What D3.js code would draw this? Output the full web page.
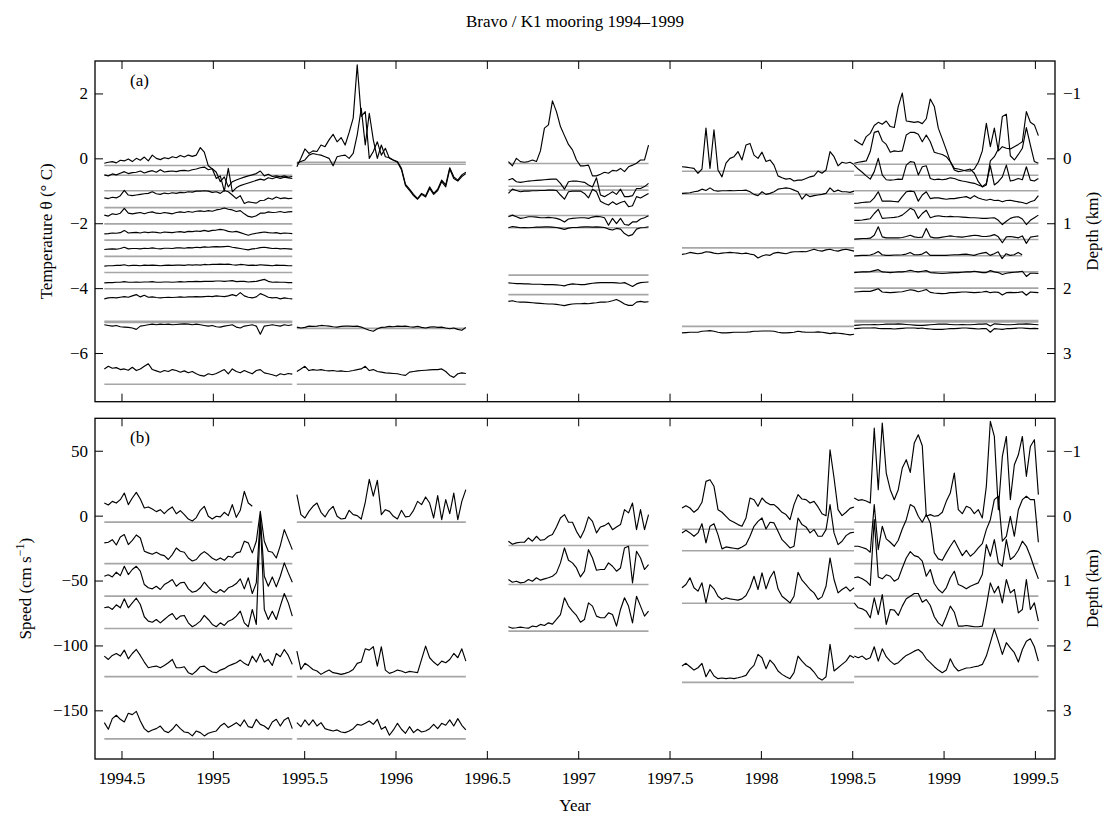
<!DOCTYPE html>
<html><head><meta charset="utf-8">
<script src="https://cdn.jsdelivr.net/npm/d3@7"></script>
<style>
body{margin:0;background:#fff;}
svg text{font-family:"Liberation Serif","Times New Roman",serif;fill:#000;}
</style></head><body>
<svg id="chart" width="1117" height="820"></svg>
<script>
// Deployment spans (decimal year)
const deployStart = [1994.406, 1995.46, 1996.618, 1997.568, 1998.511];
const deployEnd   = [1995.435, 1996.385, 1997.385, 1998.51, 1999.519];

// Potential temperature records (deg C), evenly sampled over each deployment
const temp1 = [
 [-0.15,-0.12,-0.10,-0.14,-0.06,-0.08,-0.02,-0.10,0.00,-0.06,0.04,-0.08,0.10,0.00,-0.04,0.02,-0.01,0.05,0.02,0.09,0.04,0.10,0.06,0.10,0.33,0.19,-0.23,-0.33,-0.62,-0.54,-1.01,-0.31,-1.03,-0.91,-0.84,-0.80,-0.76,-0.72,-0.68,-0.64,-0.67,-0.60,-0.63,-0.58,-0.62,-0.58,-0.60,-0.62],
 [-0.51,-0.54,-0.48,-0.51,-0.46,-0.41,-0.47,-0.44,-0.43,-0.39,-0.45,-0.41,-0.38,-0.43,-0.35,-0.42,-0.40,-0.39,-0.41,-0.38,-0.37,-0.39,-0.35,-0.33,-0.29,-0.27,-0.35,-0.32,-0.43,-0.72,-0.57,-0.88,-0.72,-0.67,-0.62,-0.58,-0.54,-0.51,-0.47,-0.39,-0.54,-0.49,-0.56,-0.54,-0.57,-0.54,-0.58,-0.56],
 [-1.22,-1.24,-1.20,-1.22,-1.15,-0.99,-1.13,-1.15,-1.13,-1.11,-1.09,-1.08,-1.03,-1.09,-1.11,-1.07,-1.09,-1.06,-1.08,-1.05,-1.06,-1.03,-1.04,-1.01,-1.01,-1.00,-1.01,-1.05,-1.03,-1.08,-0.99,-1.03,-1.13,-1.24,-1.15,-1.39,-1.34,-1.36,-1.38,-1.30,-1.29,-1.22,-1.26,-1.19,-1.24,-1.22,-1.24,-1.23],
 [-1.75,-1.78,-1.71,-1.73,-1.69,-1.54,-1.69,-1.71,-1.69,-1.67,-1.71,-1.67,-1.65,-1.69,-1.70,-1.67,-1.69,-1.71,-1.67,-1.65,-1.67,-1.64,-1.66,-1.63,-1.62,-1.64,-1.61,-1.63,-1.59,-1.57,-1.53,-1.57,-1.59,-1.64,-1.61,-1.71,-1.79,-1.81,-1.77,-1.69,-1.69,-1.65,-1.67,-1.66,-1.64,-1.67,-1.65,-1.64],
 [-2.33,-2.32,-2.30,-2.31,-2.29,-2.22,-2.30,-2.29,-2.28,-2.30,-2.27,-2.29,-2.27,-2.28,-2.30,-2.27,-2.28,-2.29,-2.27,-2.26,-2.28,-2.25,-2.26,-2.24,-2.25,-2.22,-2.25,-2.22,-2.21,-2.19,-2.21,-2.25,-2.27,-2.25,-2.29,-2.33,-2.37,-2.33,-2.31,-2.29,-2.27,-2.29,-2.30,-2.29,-2.32,-2.30,-2.31,-2.32],
 [-2.81,-2.80,-2.79,-2.80,-2.78,-2.74,-2.79,-2.78,-2.78,-2.79,-2.77,-2.78,-2.76,-2.78,-2.79,-2.77,-2.77,-2.78,-2.76,-2.76,-2.77,-2.75,-2.76,-2.74,-2.75,-2.73,-2.74,-2.73,-2.72,-2.73,-2.72,-2.71,-2.74,-2.76,-2.78,-2.80,-2.82,-2.79,-2.78,-2.75,-2.74,-2.76,-2.78,-2.77,-2.79,-2.78,-2.79,-2.80],
 [-3.32,-3.31,-3.31,-3.30,-3.30,-3.28,-3.31,-3.30,-3.30,-3.31,-3.29,-3.30,-3.29,-3.30,-3.31,-3.30,-3.29,-3.30,-3.29,-3.29,-3.30,-3.28,-3.29,-3.28,-3.29,-3.27,-3.28,-3.27,-3.27,-3.26,-3.27,-3.26,-3.28,-3.29,-3.27,-3.28,-3.30,-3.29,-3.30,-3.28,-3.29,-3.30,-3.31,-3.29,-3.30,-3.30,-3.31,-3.31],
 [-3.84,-3.83,-3.83,-3.82,-3.82,-3.80,-3.82,-3.82,-3.81,-3.82,-3.81,-3.81,-3.80,-3.82,-3.82,-3.81,-3.81,-3.82,-3.81,-3.80,-3.81,-3.80,-3.80,-3.79,-3.80,-3.79,-3.79,-3.79,-3.78,-3.78,-3.79,-3.78,-3.77,-3.80,-3.79,-3.79,-3.81,-3.80,-3.79,-3.76,-3.73,-3.79,-3.82,-3.81,-3.82,-3.82,-3.83,-3.83],
 [-4.33,-4.30,-4.29,-4.30,-4.28,-4.26,-4.28,-4.24,-4.20,-4.27,-4.22,-4.28,-4.27,-4.29,-4.30,-4.29,-4.28,-4.29,-4.28,-4.27,-4.28,-4.27,-4.27,-4.26,-4.27,-4.26,-4.25,-4.26,-4.24,-4.25,-4.26,-4.24,-4.20,-4.24,-4.14,-4.24,-4.28,-4.30,-4.27,-4.17,-4.22,-4.28,-4.30,-4.29,-4.33,-4.30,-4.32,-4.33],
 [-5.13,-5.15,-5.17,-5.15,-5.19,-5.20,-5.21,-5.23,-5.27,-5.17,-5.15,-5.13,-5.11,-5.13,-5.11,-5.12,-5.11,-5.13,-5.12,-5.11,-5.10,-5.11,-5.13,-5.11,-5.13,-5.15,-5.17,-5.15,-5.19,-5.20,-5.17,-5.15,-5.13,-5.20,-5.23,-5.17,-5.15,-5.13,-5.17,-5.42,-5.17,-5.15,-5.13,-5.15,-5.17,-5.13,-5.15,-5.13],
 [-6.49,-6.41,-6.47,-6.45,-6.51,-6.49,-6.53,-6.44,-6.54,-6.49,-6.41,-6.33,-6.51,-6.55,-6.59,-6.54,-6.57,-6.51,-6.54,-6.59,-6.55,-6.61,-6.57,-6.64,-6.69,-6.71,-6.64,-6.67,-6.63,-6.57,-6.51,-6.64,-6.49,-6.57,-6.61,-6.54,-6.59,-6.64,-6.54,-6.51,-6.61,-6.64,-6.67,-6.71,-6.64,-6.67,-6.63,-6.65]
];
const temp2 = [
 [-0.26,0.00,0.29,0.15,0.23,0.21,0.41,0.36,0.57,0.74,0.51,0.64,0.41,0.80,1.24,2.88,1.29,1.44,0.00,0.21,0.51,0.10,0.31,0.00,-0.06,-0.10,-0.31,-0.80,-0.95,-1.11,-1.24,-1.08,-1.15,-0.88,-1.08,-0.95,-0.67,-0.82,-0.29,-0.57,-0.67,-0.51,-0.43],
 [-0.15,-0.10,-0.05,0.10,0.15,0.12,0.10,0.05,0.00,-0.23,0.05,0.08,0.10,0.00,0.15,0.72,1.54,0.41,1.39,0.57,0.00,0.41,0.05,0.02,-0.05,-0.12,-0.35,-0.84,-0.99,-1.15,-1.26,-1.11,-1.19,-0.93,-1.11,-0.99,-0.72,-0.88,-0.33,-0.62,-0.70,-0.56,-0.47],
 [-5.20,-5.23,-5.21,-5.17,-5.18,-5.17,-5.15,-5.16,-5.17,-5.19,-5.20,-5.18,-5.17,-5.17,-5.18,-5.17,-5.20,-5.25,-5.30,-5.33,-5.25,-5.21,-5.20,-5.18,-5.19,-5.17,-5.18,-5.17,-5.19,-5.20,-5.18,-5.21,-5.23,-5.20,-5.19,-5.21,-5.20,-5.23,-5.25,-5.23,-5.27,-5.30,-5.21],
 [-6.57,-6.49,-6.41,-6.54,-6.51,-6.53,-6.51,-6.54,-6.55,-6.54,-6.56,-6.55,-6.57,-6.56,-6.54,-6.51,-6.49,-6.41,-6.54,-6.51,-6.57,-6.59,-6.61,-6.62,-6.63,-6.64,-6.67,-6.69,-6.59,-6.57,-6.55,-6.54,-6.53,-6.52,-6.51,-6.51,-6.49,-6.57,-6.69,-6.75,-6.64,-6.61,-6.63]
];
const temp3 = [
 [-0.10,-0.23,0.00,-0.10,-0.12,-0.10,-0.05,-0.10,0.23,0.93,1.03,1.77,1.44,0.98,0.70,0.43,0.26,-0.05,-0.23,-0.23,-0.21,-0.54,-0.54,-0.49,-0.43,-0.46,-0.37,-0.39,-0.31,-0.41,-0.26,-0.21,-0.15,-0.05,-0.05,0.41],
 [-0.67,-0.62,-0.72,-0.74,-0.72,-0.70,-0.69,-0.68,-0.67,-0.66,-0.65,-0.64,-0.64,-0.77,-0.95,-0.72,-0.70,-0.70,-0.72,-0.74,-0.82,-0.88,-0.60,-1.13,-1.18,-1.11,-1.03,-1.11,-0.95,-1.18,-1.18,-1.15,-0.93,-0.93,-0.87,-0.77],
 [-1.08,-0.95,-0.99,-1.03,-1.01,-1.01,-1.00,-1.00,-0.99,-0.99,-0.98,-0.98,-0.99,-1.13,-1.26,-1.03,-1.01,-1.01,-1.01,-1.08,-1.22,-0.95,-1.03,-1.32,-1.39,-1.44,-1.34,-1.42,-1.36,-1.32,-1.49,-1.46,-1.18,-1.22,-1.15,-1.08],
 [-1.80,-1.75,-1.80,-1.85,-1.83,-1.80,-1.80,-1.81,-1.83,-1.83,-1.82,-1.83,-1.85,-1.89,-1.96,-1.87,-1.85,-1.84,-1.83,-1.83,-1.85,-1.81,-1.79,-1.80,-1.83,-2.06,-1.85,-2.01,-1.85,-2.04,-2.06,-1.96,-1.96,-1.87,-1.83,-1.77],
 [-2.14,-2.10,-2.12,-2.14,-2.13,-2.14,-2.13,-2.12,-2.12,-2.11,-2.11,-2.12,-2.13,-2.16,-2.19,-2.15,-2.13,-2.13,-2.12,-2.11,-2.11,-2.12,-2.11,-2.12,-2.13,-2.18,-2.21,-2.16,-2.18,-2.32,-2.39,-2.35,-2.18,-2.14,-2.13,-2.11],
 [-3.84,-3.85,-3.86,-3.86,-3.87,-3.87,-3.88,-3.88,-3.88,-3.89,-3.89,-3.89,-3.90,-3.91,-3.93,-3.89,-3.87,-3.88,-3.89,-3.89,-3.87,-3.85,-3.84,-3.83,-3.83,-3.83,-3.83,-3.84,-3.85,-3.83,-3.89,-3.95,-3.87,-3.83,-3.82,-3.81],
 [-4.41,-4.39,-4.42,-4.43,-4.43,-4.44,-4.45,-4.46,-4.47,-4.48,-4.49,-4.49,-4.50,-4.52,-4.54,-4.51,-4.49,-4.48,-4.48,-4.47,-4.48,-4.46,-4.45,-4.43,-4.43,-4.42,-4.39,-4.35,-4.41,-4.49,-4.53,-4.53,-4.43,-4.41,-4.43,-4.42]
];
const temp4 = [
 [-0.26,-0.27,-0.29,-0.31,-0.46,-0.33,0.93,-0.31,0.88,-0.36,-0.57,-0.15,0.00,0.05,0.21,-0.05,0.41,0.46,0.10,0.00,0.19,-0.10,-0.05,-0.21,-0.54,-0.60,-0.64,-0.62,-0.70,-0.67,-0.67,-0.62,-0.57,-0.54,-0.39,-0.46,-0.36,0.21,0.05,-0.23,-0.12,-0.15,-0.12,-0.19],
 [-1.08,-1.07,-1.06,-1.03,-1.01,-0.95,-0.99,-0.91,-0.99,-1.01,-1.00,-1.00,-0.99,-1.00,-0.99,-0.99,-0.98,-1.03,-1.11,-1.15,-1.03,-1.11,-1.08,-1.03,-0.95,-0.93,-0.91,-0.93,-0.98,-1.03,-1.26,-1.11,-1.18,-1.15,-1.13,-1.11,-1.08,-0.91,-1.03,-0.98,-1.03,-1.03,-1.05,-1.01],
 [-2.96,-2.94,-2.90,-2.92,-2.94,-2.92,-2.88,-2.89,-2.92,-2.94,-2.92,-2.91,-2.90,-2.91,-2.92,-2.94,-2.92,-2.95,-2.97,-3.07,-3.01,-2.97,-2.99,-2.92,-2.90,-2.92,-2.94,-2.90,-2.88,-2.88,-2.87,-2.88,-2.84,-2.80,-2.84,-2.86,-2.82,-2.80,-2.84,-2.86,-2.82,-2.80,-2.83,-2.86],
 [-5.38,-5.37,-5.36,-5.36,-5.36,-5.33,-5.32,-5.31,-5.33,-5.36,-5.38,-5.38,-5.37,-5.36,-5.36,-5.36,-5.36,-5.35,-5.33,-5.33,-5.32,-5.32,-5.32,-5.33,-5.36,-5.38,-5.38,-5.37,-5.36,-5.33,-5.35,-5.36,-5.36,-5.36,-5.35,-5.36,-5.38,-5.40,-5.38,-5.39,-5.40,-5.42,-5.44,-5.42]
];
const temp5 = [
 [0.57,0.49,0.41,0.67,0.77,1.01,1.11,1.05,1.15,0.98,0.95,1.60,2.01,1.15,1.13,1.11,1.13,1.07,1.22,1.83,1.60,0.93,0.60,0.26,-0.10,-0.31,-0.33,-0.36,-0.39,-0.39,-0.33,-0.12,0.23,1.08,0.36,0.93,0.23,0.36,0.31,0.29,0.36,0.43,0.51,1.44,1.11,1.03,0.70],
 [-0.15,-0.12,-0.10,-0.08,0.21,0.80,0.84,0.54,0.43,0.19,0.23,0.21,0.23,0.72,0.80,0.80,0.74,0.51,0.72,0.51,0.19,0.15,0.12,0.05,-0.10,-0.36,-0.41,-0.39,-0.36,-0.33,-0.46,-0.72,-0.88,-0.82,-0.08,0.05,0.29,1.29,1.36,0.08,-0.05,0.12,0.31,0.95,0.41,-0.10,-0.15],
 [-0.21,-0.33,-0.43,-0.54,-0.64,-0.41,0.00,-0.51,-0.66,-0.67,-0.66,-0.64,-0.65,-0.21,-0.10,-0.12,-0.51,-0.26,-0.23,-0.62,-0.66,-0.64,-0.66,-0.64,-0.60,-0.62,-0.67,-0.70,-0.72,-0.75,-0.77,-0.82,-0.87,-0.77,-0.23,-0.82,-0.72,-0.57,-0.21,-0.70,-0.67,-0.62,-0.66,-0.26,-0.67,-0.70,-0.62],
 [-1.39,-1.38,-1.36,-1.35,-1.34,-1.22,-1.03,-1.32,-1.32,-1.32,-1.33,-1.34,-1.18,-1.03,-1.01,-1.03,-1.32,-1.13,-1.03,-1.24,-1.22,-1.22,-1.24,-1.26,-1.24,-1.24,-1.22,-1.20,-1.18,-1.24,-1.15,-1.22,-1.26,-1.29,-1.26,-1.30,-1.29,-1.34,-1.30,-1.29,-1.32,-1.34,-1.36,-1.40,-1.34,-1.30,-1.15],
 [-1.91,-1.91,-1.90,-1.88,-1.86,-1.70,-1.57,-1.85,-1.84,-1.83,-1.82,-1.80,-1.75,-1.65,-1.54,-1.60,-1.85,-1.70,-1.60,-1.83,-1.79,-1.77,-1.79,-1.80,-1.79,-1.80,-1.80,-1.81,-1.82,-1.83,-1.83,-1.84,-1.85,-1.85,-1.84,-1.83,-1.91,-2.04,-1.94,-1.85,-1.81,-1.80,-1.87,-2.04,-1.91,-1.83,-1.75],
 [-2.49,-2.48,-2.47,-2.47,-2.46,-2.37,-2.11,-2.42,-2.45,-2.45,-2.45,-2.45,-2.44,-2.41,-2.37,-2.42,-2.44,-2.43,-2.16,-2.42,-2.45,-2.45,-2.43,-2.41,-2.39,-2.41,-2.42,-2.43,-2.41,-2.39,-2.37,-2.38,-2.41,-2.41,-2.39,-2.35,-2.42,-2.60,-2.42,-2.41,-2.43,-2.45,-2.39,-2.62,-2.43,-2.41,-2.39],
 [-3.01,-3.00,-2.99,-2.99,-2.98,-2.94,-2.87,-2.97,-2.99,-2.99,-2.98,-2.98,-2.97,-2.95,-2.90,-2.97,-2.97,-2.95,-2.88,-2.99,-2.99,-2.99,-2.99,-2.99,-2.98,-2.97,-2.97,-2.96,-2.95,-2.97,-2.99,-2.95,-2.92,-2.90,-2.99,-2.94,-2.88,-3.09,-2.94,-2.99,-2.97,-2.90,-2.97],
 [-3.52,-3.51,-3.50,-3.50,-3.49,-3.46,-3.43,-3.50,-3.51,-3.52,-3.51,-3.50,-3.50,-3.48,-3.45,-3.48,-3.50,-3.48,-3.46,-3.52,-3.53,-3.54,-3.55,-3.54,-3.53,-3.52,-3.52,-3.51,-3.50,-3.50,-3.48,-3.50,-3.52,-3.52,-3.46,-3.50,-3.52,-3.58,-3.54,-3.52,-3.51,-3.50,-3.48,-3.64,-3.54,-3.54,-3.55],
 [-4.12,-4.11,-4.10,-4.10,-4.10,-4.06,-4.02,-4.12,-4.13,-4.14,-4.13,-4.12,-4.11,-4.08,-4.05,-4.07,-4.11,-4.08,-4.04,-4.13,-4.15,-4.16,-4.17,-4.16,-4.14,-4.14,-4.13,-4.12,-4.12,-4.13,-4.14,-4.13,-4.12,-4.10,-4.14,-4.12,-4.13,-4.21,-4.14,-4.13,-4.14,-4.13,-4.11,-4.22,-4.12,-4.13,-4.14],
 [-5.15,-5.14,-5.13,-5.13,-5.13,-5.12,-5.13,-5.12,-5.11,-5.11,-5.11,-5.10,-5.11,-5.12,-5.13,-5.14,-5.15,-5.15,-5.14,-5.13,-5.12,-5.11,-5.11,-5.11,-5.12,-5.13,-5.13,-5.12,-5.13,-5.13,-5.12,-5.11,-5.11,-5.10,-5.17,-5.10,-5.11,-5.12,-5.13,-5.13,-5.12,-5.11,-5.11,-5.10,-5.11,-5.12,-5.13],
 [-5.25,-5.24,-5.23,-5.23,-5.23,-5.22,-5.24,-5.25,-5.25,-5.25,-5.26,-5.25,-5.24,-5.23,-5.23,-5.23,-5.24,-5.23,-5.25,-5.26,-5.27,-5.27,-5.27,-5.26,-5.25,-5.25,-5.24,-5.23,-5.23,-5.24,-5.25,-5.26,-5.25,-5.25,-5.36,-5.25,-5.26,-5.27,-5.25,-5.25,-5.24,-5.23,-5.23,-5.24,-5.25,-5.24,-5.25]
];

// Current speed records (cm/s)
const speed1 = [
 [9.7,8.2,11.0,9.7,12.3,17.4,8.5,13.6,17.9,12.8,5.9,6.7,5.1,3.1,4.6,1.5,4.6,6.7,1.5,3.8,0.8,-2.6,-4.1,-1.5,4.1,7.2,-0.5,-2.6,-0.5,-1.0,2.6,0.0,8.5,-1.3,4.1,18.7,9.7,7.2],
 [-21.0,-20.5,-18.5,-22.6,-16.4,-14.6,-22.3,-19.0,-14.9,-17.2,-27.4,-28.7,-29.7,-28.2,-30.0,-30.8,-33.8,-30.0,-24.9,-27.4,-28.2,-32.6,-34.9,-33.8,-30.0,-27.7,-30.0,-32.8,-34.4,-32.6,-34.4,-31.3,-32.1,-28.7,-27.9,-19.7,-21.0,-28.7,-19.7,3.3,-19.7,-27.4,-28.2,-32.6,-23.1,-10.8,-18.5,-26.2],
 [-46.7,-45.6,-47.2,-43.6,-46.2,-39.0,-45.4,-41.5,-39.0,-42.8,-53.1,-55.6,-56.4,-54.4,-56.9,-53.1,-51.3,-49.2,-54.4,-51.8,-51.3,-56.4,-59.0,-58.2,-55.6,-51.3,-54.9,-58.2,-59.5,-56.9,-59.0,-55.6,-54.4,-52.3,-48.7,-56.4,-47.9,-60.0,-51.8,-0.5,-46.7,-54.4,-47.2,-54.9,-46.7,-36.4,-44.1,-51.3],
 [-71.0,-70.3,-72.3,-68.7,-71.0,-64.1,-71.0,-67.2,-63.6,-68.5,-77.9,-81.3,-82.1,-80.0,-82.6,-80.0,-77.4,-75.4,-80.0,-77.4,-76.9,-82.6,-85.6,-83.8,-81.3,-76.9,-80.0,-83.8,-85.6,-82.6,-84.6,-81.3,-80.0,-77.4,-73.6,-82.6,-85.6,-72.3,-83.8,-3.1,-72.3,-80.0,-73.6,-80.0,-69.7,-60.0,-67.2,-77.4],
 [-108.2,-110.8,-107.7,-106.2,-108.2,-103.6,-110.3,-106.2,-103.1,-107.7,-112.8,-117.2,-116.4,-115.9,-117.2,-115.4,-113.3,-110.8,-117.2,-117.2,-116.4,-121.0,-122.3,-119.7,-116.4,-115.9,-118.5,-120.5,-121.0,-119.0,-117.9,-115.9,-114.6,-113.3,-111.3,-113.8,-115.4,-108.2,-112.8,-106.2,-112.8,-110.8,-115.4,-106.2,-108.7,-103.1,-107.7,-114.6],
 [-159.5,-164.6,-156.4,-153.8,-156.9,-159.0,-152.3,-153.3,-150.8,-158.2,-164.1,-166.7,-165.1,-164.1,-162.1,-165.9,-167.2,-164.6,-160.8,-164.1,-166.7,-167.2,-169.7,-165.9,-167.2,-169.7,-167.7,-166.7,-165.9,-162.1,-160.0,-163.3,-161.5,-159.5,-162.1,-157.4,-162.6,-163.3,-156.9,-160.8,-162.1,-164.6,-159.0,-156.9,-162.1,-157.4,-155.6,-164.1]
];
const speed2 = [
 [16.2,0.8,-1.8,3.3,7.2,9.7,2.6,-1.0,4.1,7.2,-0.5,-2.6,-2.1,4.1,0.8,0.0,-2.6,10.3,28.0,15.1,27.2,0.8,4.6,3.3,-0.5,-2.6,4.1,-1.0,-0.5,4.1,11.0,8.5,14.4,9.7,-1.8,15.4,-3.1,12.3,1.5,17.4,-3.1,11.0,20.0],
 [-104.4,-118.5,-113.8,-115.9,-118.5,-119.7,-122.3,-120.5,-119.0,-121.0,-121.5,-122.3,-121.5,-120.5,-118.5,-113.8,-112.8,-102.6,-103.6,-101.0,-115.9,-101.0,-119.0,-121.5,-120.5,-119.0,-119.7,-121.0,-120.0,-120.5,-121.0,-110.8,-100.5,-109.5,-112.8,-115.4,-112.1,-113.3,-110.8,-106.2,-109.5,-102.6,-112.1],
 [-159.5,-162.6,-157.4,-161.5,-157.4,-162.1,-159.5,-164.1,-165.1,-165.9,-165.1,-166.7,-167.2,-165.9,-164.1,-160.8,-161.5,-160.0,-158.2,-160.8,-156.9,-164.6,-162.6,-169.2,-165.1,-160.0,-164.6,-167.7,-162.6,-167.2,-164.6,-166.7,-165.9,-164.1,-160.8,-164.1,-160.0,-161.5,-157.4,-162.1,-156.4,-161.5,-165.1]
];
const speed3 = [
 [-19.7,-22.1,-21.0,-20.5,-20.5,-17.2,-19.7,-15.9,-19.0,-18.5,-15.9,-14.6,-8.7,-1.8,0.8,-5.1,-5.1,-12.1,-17.2,-10.8,-1.0,-4.4,-13.3,-8.7,-7.7,-5.6,-10.8,-8.7,-6.9,4.6,2.1,9.7,-10.8,4.6,-10.8,0.8],
 [-49.2,-51.3,-50.5,-51.8,-51.3,-49.2,-50.5,-47.9,-49.7,-48.7,-47.9,-46.7,-44.1,-36.4,-24.9,-34.4,-36.4,-40.3,-47.2,-42.8,-26.2,-32.6,-42.1,-41.5,-41.5,-36.4,-39.0,-42.8,-40.3,-24.9,-23.6,-51.8,-27.4,-32.6,-41.5,-37.7],
 [-85.6,-86.7,-86.4,-85.9,-86.4,-86.7,-85.1,-85.6,-83.8,-84.6,-82.6,-83.6,-80.0,-76.2,-63.3,-69.7,-73.6,-76.9,-82.1,-80.0,-67.2,-69.7,-77.4,-78.7,-78.7,-74.9,-76.2,-85.1,-72.3,-63.3,-69.7,-82.6,-62.1,-69.7,-77.4,-73.6]
];
const speed4 = [
 [5.9,7.7,5.9,2.6,5.1,10.3,26.4,27.7,22.6,4.6,2.6,-0.5,-3.6,-5.1,-6.9,-8.2,-1.8,13.6,12.3,7.2,13.6,10.3,8.5,8.5,5.9,2.6,0.8,-3.1,8.5,16.2,12.8,12.3,9.7,11.0,6.7,1.5,0.0,50.8,29.0,4.6,0.0,2.6,5.6,6.7],
 [-13.3,-11.3,-13.3,-15.9,-13.3,-6.2,-21.0,-8.2,-6.2,-14.6,-25.6,-24.1,-24.6,-25.1,-25.6,-24.1,-22.3,-15.9,-8.2,-4.4,-1.8,-10.3,-5.1,-5.6,-12.1,-18.5,-21.5,-24.9,-23.6,-1.8,-6.9,-8.7,-13.3,-10.8,-15.9,-15.9,-10.8,8.5,-13.3,-22.3,-19.7,-15.4,-13.3,-12.8],
 [-55.6,-53.1,-47.9,-55.6,-58.2,-51.8,-67.2,-53.1,-56.4,-62.1,-64.6,-63.3,-64.1,-64.6,-65.1,-64.1,-61.5,-55.6,-46.7,-56.9,-44.1,-56.4,-47.9,-42.8,-56.4,-62.1,-64.6,-67.2,-62.1,-43.6,-49.7,-53.1,-56.9,-59.5,-64.6,-62.6,-54.4,-32.6,-49.2,-59.5,-56.9,-54.9,-58.2,-55.6],
 [-115.9,-113.8,-116.4,-119.0,-117.2,-113.8,-124.1,-118.5,-123.6,-125.6,-125.1,-125.6,-125.1,-125.6,-124.9,-124.1,-123.1,-118.5,-115.4,-106.9,-109.5,-117.9,-111.3,-114.6,-119.7,-122.3,-124.1,-125.6,-121.0,-108.2,-112.1,-115.4,-117.2,-120.5,-124.9,-126.7,-124.1,-99.2,-119.7,-117.2,-114.6,-112.1,-107.7,-109.5]
];
const speed5 = [
 [13.6,11.8,12.3,11.3,9.7,67.4,20.0,71.3,32.8,20.0,12.3,20.0,36.7,43.1,33.3,55.9,62.3,53.8,-0.5,0.8,-0.5,0.0,2.6,11.0,17.4,32.8,4.6,1.5,7.2,5.9,1.5,4.6,-1.8,22.6,72.6,61.0,4.6,45.6,61.0,12.3,39.2,46.9,61.0,30.3,53.3,58.5,16.2],
 [-23.6,-23.6,-24.6,-25.6,-28.2,8.5,-26.2,-8.2,-17.9,-20.5,-23.6,-19.0,-10.3,-3.1,8.5,6.7,-0.5,-5.1,0.8,-5.6,-28.7,-33.3,-34.4,-28.7,-23.6,-19.0,-24.9,-30.8,-26.7,-31.3,-28.7,-24.9,-21.5,-10.8,-3.1,12.3,14.9,-19.7,-15.9,-0.5,-15.9,4.6,12.3,14.9,12.3,12.3,-20.5],
 [-47.9,-47.2,-48.7,-50.5,-53.8,-3.1,-47.2,-48.7,-45.6,-46.7,-50.5,-48.7,-40.3,-32.6,-27.7,-30.8,-31.8,-35.1,-46.7,-41.5,-52.3,-56.9,-59.5,-55.6,-47.9,-42.8,-53.1,-54.4,-56.4,-54.4,-53.1,-51.8,-45.4,-22.3,-31.3,-18.5,-36.4,-39.0,-18.5,-33.8,-31.3,-26.7,-19.7,-23.6,-31.3,-40.3,-48.7],
 [-67.2,-71.0,-71.8,-73.6,-78.7,-63.3,-76.2,-60.8,-83.8,-72.3,-72.8,-76.9,-69.7,-64.1,-62.1,-60.0,-60.0,-66.7,-64.6,-69.2,-77.9,-82.6,-85.1,-77.9,-69.7,-74.4,-85.1,-85.1,-84.6,-85.1,-85.6,-85.6,-85.1,-69.7,-51.8,-59.5,-54.4,-67.2,-49.2,-59.5,-56.9,-74.9,-72.3,-49.2,-72.3,-67.2,-81.3],
 [-108.2,-109.5,-108.2,-110.8,-109.5,-101.0,-112.1,-102.6,-108.7,-112.1,-114.6,-113.3,-110.3,-107.7,-106.2,-104.4,-103.1,-105.6,-110.3,-113.3,-116.4,-119.0,-121.0,-119.0,-110.3,-116.4,-119.7,-118.5,-117.4,-117.2,-116.4,-115.9,-114.6,-108.2,-97.9,-87.2,-96.7,-106.9,-97.9,-101.8,-105.6,-112.8,-103.1,-96.7,-94.9,-101.0,-112.1]
];

// Instrument depths (km) for each deployment, drawn as reference lines
const tempDepths = [
 [0.11,0.26,0.50,0.76,1.01,1.26,1.51,1.76,2.01,2.51,2.53,3.48],
 [0.06,0.09,2.62,3.48],
 [0.08,0.43,0.49,0.88,1.07,1.80,2.10],
 [0.20,0.55,1.38,2.59],
 [0.09,0.26,0.50,0.76,1.00,1.25,1.50,1.75,2.00,2.50,2.52]
];
const speedDepths = [
 [0.10,0.74,1.24,1.74,2.48,3.44],
 [0.10,2.48,3.44],
 [0.46,1.06,1.78],
 [0.21,0.54,1.35,2.57],
 [0.10,0.74,1.24,1.74,2.48]
];

// Instruments that stopped early: [deployment, instrument, last year]
const tempEarlyEnd  = [[4, 6, 1999.43]];
const speedEarlyEnd = [[0, 0, 1995.216]];

const yearTicks  = [1994.5,1995,1995.5,1996,1996.5,1997,1997.5,1998,1998.5,1999,1999.5];
const tempTicks  = [-6,-4,-2,0,2];
const speedTicks = [-150,-100,-50,0,50];
const depthTicks = [-1,0,1,2,3];

const svg = d3.select('#chart');
const plotL = 95, plotR = 1055;
const panelA = {top: 61, bottom: 401.7};
const panelB = {top: 418.3, bottom: 759};
const fontSize = 17;

const x  = d3.scaleLinear().domain([1994.355, 1999.61]).range([plotL, plotR]);
const yT = d3.scaleLinear().domain([-7.5, 3]).range([panelA.bottom, panelA.top]);
const yS = d3.scaleLinear().domain([-187.5, 75]).range([panelB.bottom, panelB.top]);
const zA = d3.scaleLinear().domain([3.75, -1.5]).range([panelA.bottom, panelA.top]);
const zB = d3.scaleLinear().domain([3.75, -1.5]).range([panelB.bottom, panelB.top]);

function endYear(cuts, d, k) {
  const c = cuts.find(e => e[0] === d && e[1] === k);
  return c ? c[2] : deployEnd[d];
}

function drawRecords(records, depths, yVal, yDepth, cuts) {
  const g = svg.append('g');
  depths.forEach((list, d) => {
    list.forEach((z, k) => {
      g.append('line')
        .attr('x1', x(deployStart[d])).attr('x2', x(endYear(cuts, d, k)))
        .attr('y1', yDepth(z)).attr('y2', yDepth(z))
        .attr('stroke', '#a6a6a6').attr('stroke-width', 1.6);
    });
  });
  records.forEach((list, d) => {
    list.forEach((vals, k) => {
      const t0 = deployStart[d], t1 = endYear(cuts, d, k);
      const step = (t1 - t0) / (vals.length - 1);
      const line = d3.line().x((v, i) => x(t0 + i * step)).y(v => yVal(v));
      g.append('path').attr('d', line(vals))
        .attr('fill', 'none').attr('stroke', '#000')
        .attr('stroke-width', 1.15).attr('stroke-linejoin', 'round');
    });
  });
}

function styleAxis(sel) {
  sel.select('.domain').remove();
  sel.selectAll('line').attr('stroke', '#000').attr('stroke-width', 1);
  sel.selectAll('text').attr('font-size', fontSize)
    .attr('font-family', '"Liberation Serif","Times New Roman",serif');
  sel.attr('font-family', null).attr('font-size', null);
}

function drawFrame(panel, yScale, yTicks, zScale, showYears) {
  svg.append('g').attr('transform', `translate(${plotL},0)`)
    .call(d3.axisLeft(yScale).tickValues(yTicks).tickSize(-8).tickPadding(7))
    .call(styleAxis);
  svg.append('g').attr('transform', `translate(${plotR},0)`)
    .call(d3.axisRight(zScale).tickValues(depthTicks).tickSize(-8).tickPadding(8)
      .tickFormat(d3.format('d')))
    .call(styleAxis);
  svg.append('g').attr('transform', `translate(0,${panel.top})`)
    .call(d3.axisTop(x).tickValues(yearTicks).tickSize(-8).tickFormat(''))
    .call(styleAxis);
  svg.append('g').attr('transform', `translate(0,${panel.bottom})`)
    .call(d3.axisBottom(x).tickValues(yearTicks).tickSize(-8).tickPadding(13)
      .tickFormat(showYears ? d3.format('') : ''))
    .call(styleAxis);
  svg.append('rect').attr('x', plotL).attr('y', panel.top)
    .attr('width', plotR - plotL).attr('height', panel.bottom - panel.top)
    .attr('fill', 'none').attr('stroke', '#000').attr('stroke-width', 1.3);
}

drawRecords([temp1, temp2, temp3, temp4, temp5], tempDepths, yT, zA, tempEarlyEnd);
drawRecords([speed1, speed2, speed3, speed4, speed5], speedDepths, yS, zB, speedEarlyEnd);
drawFrame(panelA, yT, tempTicks, zA, false);
drawFrame(panelB, yS, speedTicks, zB, true);

// Titles and labels
svg.append('text').attr('x', (plotL + plotR) / 2).attr('y', 27)
  .attr('text-anchor', 'middle').attr('font-size', fontSize)
  .text('Bravo / K1 mooring 1994–1999');
svg.append('text').attr('x', 130).attr('y', 86).attr('font-size', fontSize).text('(a)');
svg.append('text').attr('x', 130).attr('y', 443).attr('font-size', fontSize).text('(b)');
svg.append('text').attr('x', (plotL + plotR) / 2).attr('y', 811)
  .attr('text-anchor', 'middle').attr('font-size', fontSize).text('Year');

svg.append('text')
  .attr('transform', `translate(52,${(panelA.top + panelA.bottom) / 2}) rotate(-90)`)
  .attr('text-anchor', 'middle').attr('font-size', fontSize)
  .text('Temperature θ (° C)');
const sp = svg.append('text')
  .attr('transform', `translate(31,${(panelB.top + panelB.bottom) / 2}) rotate(-90)`)
  .attr('text-anchor', 'middle').attr('font-size', fontSize);
sp.append('tspan').text('Speed (cm s');
sp.append('tspan').attr('dy', -7).attr('font-size', 12).text('−1');
sp.append('tspan').attr('dy', 7).text(')');

[panelA, panelB].forEach(p => {
  svg.append('text')
    .attr('transform', `translate(1098,${(p.top + p.bottom) / 2}) rotate(-90)`)
    .attr('text-anchor', 'middle').attr('font-size', fontSize).text('Depth (km)');
});
</script>
</body></html>
